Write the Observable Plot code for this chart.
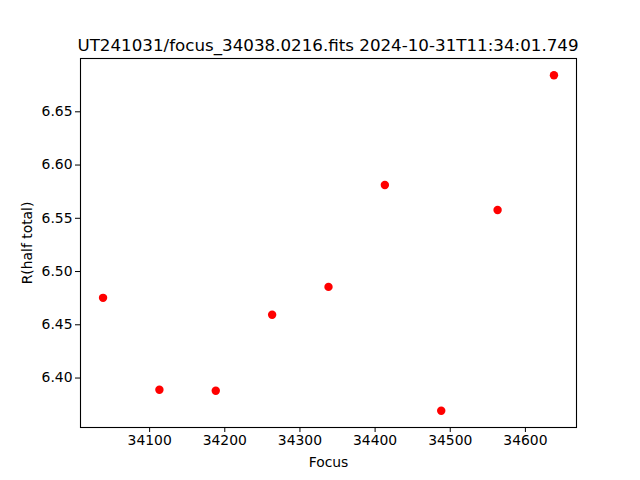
<!DOCTYPE html>
<html>
<head>
<meta charset="utf-8">
<script src="https://cdn.jsdelivr.net/npm/d3@7"></script>
<script src="https://cdn.jsdelivr.net/npm/@observablehq/plot@0.6"></script>
<style>
  html, body { margin: 0; padding: 0; background: #fff; }
  #wrap { position: relative; width: 640px; height: 480px; font-family: "DejaVu Sans", sans-serif; }
  #title { position: absolute; z-index: 2; left: 328px; top: 35px; transform: translateX(-50%); white-space: nowrap; font-size: 16.7px; color: #000; line-height: 1.2; }
  #chart { position: absolute; z-index: 1; left: 0; top: 50px; }
</style>
</head>
<body>
<div id="wrap">
  <div id="title">UT241031/focus_34038.0216.fits 2024-10-31T11:34:01.749</div>
  <div id="chart"></div>
</div>
<script>
const focus = [34038, 34113, 34188, 34263, 34338, 34413, 34488, 34563, 34638];
const rHalfTotal = [6.4753, 6.389, 6.388, 6.4594, 6.4856, 6.5812, 6.3693, 6.5578, 6.6843];
const xTicks = [34100, 34200, 34300, 34400, 34500, 34600];
const yTicks = [6.40, 6.45, 6.50, 6.55, 6.60, 6.65];

const data = focus.map((f, i) => ({focus: f, r: rHalfTotal[i]}));
function padded(arr) {
  const [a, b] = d3.extent(arr);
  const m = (b - a) * 0.05;
  return [a - m, b + m];
}

const plot = Plot.plot({
  width: 640,
  height: 430,
  marginLeft: 80,
  marginRight: 64,
  marginTop: 8,
  marginBottom: 53,
  style: {fontFamily: "DejaVu Sans, sans-serif", fontSize: "13.9px", color: "#000", background: "transparent"},
  x: {domain: padded(focus)},
  y: {domain: padded(rHalfTotal)},
  marks: [
    Plot.axisX({ticks: xTicks, tickFormat: d => String(d), tickSize: 5, tickPadding: 3, fontSize: 13.9,
      label: "Focus", labelAnchor: "center", labelArrow: "none", labelOffset: 39}),
    Plot.axisY({ticks: yTicks, tickFormat: d => d.toFixed(2), tickSize: 5, tickPadding: 3, fontSize: 13.9,
      label: "R(half total)", labelAnchor: "center", labelArrow: "none", labelOffset: 58}),
    Plot.frame({stroke: "#000", strokeWidth: 1.1}),
    Plot.dot(data, {x: "focus", y: "r", r: 4.2, fill: "#ff0000", stroke: "none"})
  ]
});
document.getElementById("chart").appendChild(plot);
</script>
</body>
</html>
